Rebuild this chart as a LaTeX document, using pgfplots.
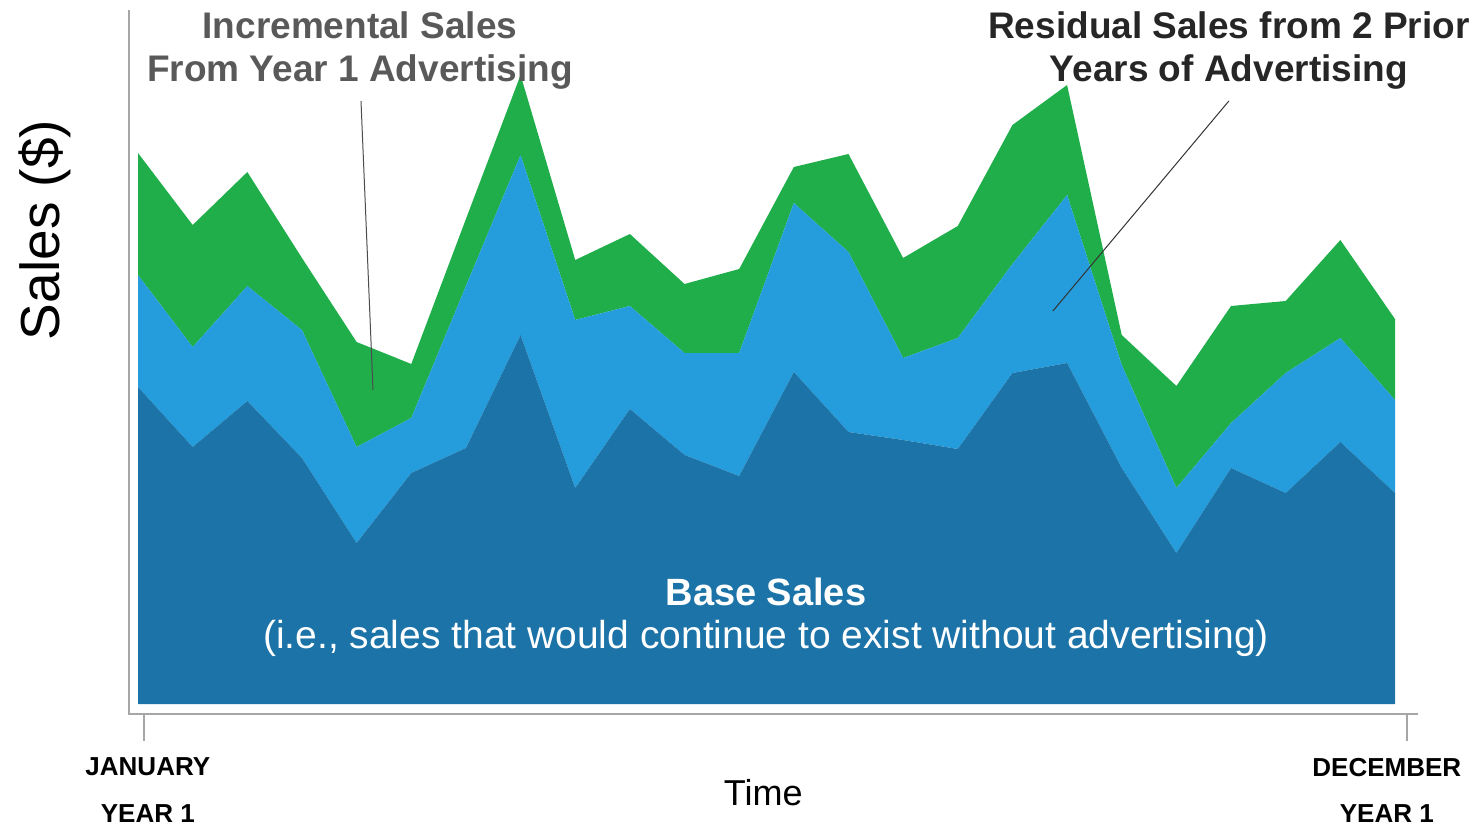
\documentclass[border=0pt]{standalone}
\usepackage{pgfplots}
\pgfplotsset{compat=1.18}
\usepackage{fontspec}
\setmainfont{Liberation Sans}
\definecolor{baseC}{HTML}{1B73A7}
\definecolor{resC}{HTML}{259CDB}
\definecolor{incC}{HTML}{20AE4B}
\definecolor{axC}{HTML}{A6A6A6}
\definecolor{grayT}{HTML}{595959}
\definecolor{darkT}{HTML}{262626}
\begin{document}
\begin{tikzpicture}
\path[use as bounding box] (0,0) rectangle (738pt,413pt);
\begin{axis}[
  at={(64.5pt,56pt)}, anchor=south west,
  scale only axis, width=644.5pt, height=352pt,
  xmin=-0.165, xmax=23.421, ymin=-10, ymax=694,
  hide axis, clip=false,
  stack plots=y,
]
% base sales
\addplot[fill=baseC, draw=none] coordinates {
(0,317) (1,257) (2,303) (3,246) (4,161) (5,231) (6,256) (7,369) (8,216) (9,295) (10,249) (11,228)
(12,332) (13,272) (14,264) (15,255) (16,331) (17,341) (18,236) (19,151) (20,236) (21,211) (22,262) (23,211)
} \closedcycle;
% residual sales
\addplot[fill=resC, draw=none] coordinates {
(0,112) (1,100) (2,115) (3,128) (4,96) (5,55) (6,162) (7,180) (8,168) (9,103) (10,102) (11,123)
(12,169) (13,180) (14,82) (15,111) (16,109) (17,168) (18,103) (19,65) (20,45) (21,120) (22,104) (23,93)
} \closedcycle;
% incremental sales
\addplot[fill=incC, draw=none] coordinates {
(0,122) (1,122) (2,114) (3,72) (4,105) (5,54) (6,67) (7,80) (8,60) (9,72) (10,69) (11,84)
(12,36) (13,98) (14,100) (15,112) (16,139) (17,110) (18,30) (19,102) (20,117) (21,72) (22,98) (23,81)
} \closedcycle;

\coordinate (ytop) at (axis cs:-0.165,694);
\coordinate (orig) at (axis cs:-0.165,-10);
\coordinate (xend) at (axis cs:23.421,-10);
\coordinate (t1) at (axis cs:0.11,-10);
\coordinate (t2) at (axis cs:23.22,-10);
\coordinate (l1a) at (axis cs:4.08,603);
\coordinate (l1b) at (axis cs:4.30,314);
\coordinate (l2a) at (axis cs:19.96,603);
\coordinate (l2b) at (axis cs:16.74,393);
\coordinate (incT) at (axis cs:4.06,653);
\coordinate (resT) at (axis cs:19.96,653);
\coordinate (baseT) at (axis cs:11.49,112);
\coordinate (baseS) at (axis cs:11.49,66);
\coordinate (ylab) at (axis cs:-1.70,474);
\coordinate (xlab) at (axis cs:11.44,-89);
\coordinate (jan1) at (axis cs:0.18,-63);
\coordinate (jan2) at (axis cs:0.18,-110);
\coordinate (dec1) at (axis cs:22.85,-64);
\coordinate (dec2) at (axis cs:22.85,-110);
\end{axis}

% axis lines and ticks
\draw[axC, line width=1pt] (ytop) -- (orig) -- (xend);
\draw[axC, line width=1pt] (t1) -- ++(0,-13.5pt);
\draw[axC, line width=1pt] (t2) -- ++(0,-13.5pt);

% leader lines
\draw[black!70, line width=0.5pt] (l1a) -- (l1b);
\draw[black!80, line width=0.5pt] (l2a) -- (l2b);

% annotations
\node[align=center, text=grayT, font=\fontsize{18.5}{21.5}\selectfont\bfseries] at (incT)
  {Incremental Sales\\From Year 1 Advertising};
\node[align=center, text=darkT, font=\fontsize{18.5}{21.5}\selectfont\bfseries] at (resT)
  {Residual Sales from 2 Prior\\Years of Advertising};
\node[text=white, font=\fontsize{19}{22}\selectfont\bfseries] at (baseT) {Base Sales};
\node[text=white, font=\fontsize{19.5}{22}\selectfont] at (baseS)
  {(i.e., sales that would continue to exist without advertising)};

% axis titles
\node[rotate=90, font=\fontsize{27.5}{30}\selectfont] at (ylab) {Sales (\$)};
\node[font=\fontsize{18}{20}\selectfont] at (xlab) {Time};
\node[font=\fontsize{13}{15}\selectfont\bfseries] at (jan1) {JANUARY};
\node[font=\fontsize{13}{15}\selectfont\bfseries] at (jan2) {YEAR 1};
\node[font=\fontsize{13}{15}\selectfont\bfseries] at (dec1) {DECEMBER};
\node[font=\fontsize{13}{15}\selectfont\bfseries] at (dec2) {YEAR 1};
\end{tikzpicture}
\end{document}
